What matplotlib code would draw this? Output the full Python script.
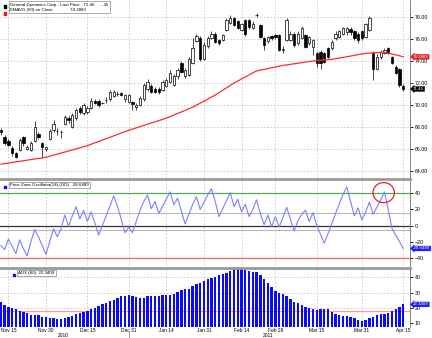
import numpy as np
import matplotlib.pyplot as plt
from matplotlib.patches import Ellipse
from matplotlib.transforms import blended_transform_factory

plt.rcParams['font.family'] = ['Liberation Sans', 'DejaVu Sans']

# trading-day index, 0 = Nov 15 2010
days = np.arange(-2, 106)

opens = [67.7, 67.1, 66.7, 66.1, 65.6, 65.9, 67.1, 66.0, 65.9, 66.7, 67.4, 66.5, 66.0, 66.9, 67.7, 67.6,
         67.5, 68.3, 68.8, 68.0, 68.8, 69.7, 69.3, 69.4, 69.7, 70.4, 70.35, 70.2, 70.45, 70.5, 70.8, 71.0,
         71.1, 70.5, 70.3, 70.3, 69.8, 70.0, 70.5, 71.5, 71.7, 71.5, 71.5, 71.4, 71.7, 72.1, 71.8, 72.6,
         73.8, 72.6, 72.7, 73.8, 75.8, 76.1, 74.2, 75.4, 76.1, 76.5, 75.9, 75.9, 76.8, 77.5, 77.9, 77.6,
         76.8, 77.7, 77.7, 77.0, 78.2, 77.3, 76.1, 75.8, 76.3, 76.35, 76.35, 75.0, 75.9, 75.9, 76.5, 75.6,
         76.1, 76.4, 75.6, 75.3, 74.7, 74.85, 74.7, 75.15, 75.15, 76.05, 76.2, 76.5, 76.6, 76.95, 76.7,
         76.5, 76.7, 76.2, 76.8, 74.7, 73.3, 74.35, 74.7, 75.15, 74.4, 73.5, 73.3, 71.7]
highs = [67.9, 67.3, 66.9, 66.3, 65.7, 67.0, 67.2, 66.4, 66.7, 68.5, 67.5, 66.6, 66.3, 67.8, 68.6, 67.9,
         67.7, 69.1, 69.0, 69.3, 69.7, 69.9, 70.2, 69.9, 70.6, 70.5, 70.5, 70.3, 70.7, 71.4, 71.4, 71.3,
         71.2, 71.0, 71.0, 70.4, 70.2, 70.8, 72.0, 72.4, 71.9, 71.6, 71.6, 72.3, 72.5, 73.2, 72.8, 73.4,
         74.0, 73.4, 74.4, 76.1, 76.5, 76.3, 75.7, 76.3, 76.7, 76.6, 76.0, 76.5, 77.9, 78.2, 78.0, 77.7,
         77.5, 77.8, 77.8, 77.6, 78.4, 77.4, 76.2, 76.3, 76.4, 76.5, 76.5, 75.4, 77.9, 76.7, 76.6, 76.7,
         77.2, 76.5, 76.3, 76.0, 74.8, 75.0, 74.8, 75.3, 75.9, 76.7, 76.8, 77.1, 77.1, 77.1, 76.8,
         76.6, 76.8, 77.5, 78.1, 74.9, 74.6, 75.0, 75.2, 75.3, 74.5, 73.6, 73.4, 71.9]
lows = [67.3, 66.4, 66.3, 65.4, 65.2, 65.8, 66.3, 65.9, 65.8, 66.6, 66.9, 65.2, 65.8, 66.8, 67.5, 67.3,
        67.0, 68.2, 68.4, 67.9, 68.6, 69.2, 69.1, 69.2, 69.6, 70.1, 69.8, 70.1, 70.2, 70.4, 70.7, 70.8,
        70.8, 70.3, 70.2, 69.55, 69.5, 69.9, 70.4, 71.3, 71.1, 71.1, 71.0, 71.3, 71.6, 72.0, 71.7, 72.4,
        72.9, 72.5, 72.6, 73.7, 75.7, 74.0, 74.1, 75.2, 76.0, 75.6, 75.5, 75.8, 76.7, 77.4, 77.2, 76.9,
        76.7, 76.3, 76.9, 76.9, 78.0, 76.1, 75.0, 75.6, 75.9, 76.0, 74.9, 74.7, 75.8, 75.8, 75.3, 75.5,
        76.0, 75.2, 75.5, 74.55, 73.5, 73.3, 73.8, 74.3, 75.0, 75.9, 76.1, 76.4, 76.4, 76.4, 75.9,
        75.6, 75.9, 76.1, 76.7, 72.3, 73.2, 74.2, 74.6, 74.6, 73.7, 72.8, 71.6, 71.3]
closes = [67.5, 66.5, 66.4, 65.6, 65.3, 66.8, 66.5, 66.2, 66.5, 68.0, 67.1, 66.2, 66.2, 67.6, 68.3, 67.6,
          67.5, 68.9, 68.6, 69.1, 69.5, 69.4, 70.0, 69.7, 70.4, 70.2, 70.0, 70.2, 70.45, 71.2, 71.2, 71.0,
          70.9, 70.9, 70.9, 70.1, 70.0, 70.6, 71.8, 72.1, 71.2, 71.2, 71.2, 72.1, 72.3, 72.9, 72.6, 73.2,
          73.0, 73.2, 74.2, 75.2, 76.3, 74.2, 75.5, 76.1, 76.5, 75.75, 75.6, 76.35, 77.7, 77.9, 77.3, 77.0,
          77.4, 76.5, 77.1, 77.4, 78.15, 76.2, 75.45, 76.2, 76.1, 76.15, 75.0, 75.1, 77.7, 76.5, 75.45, 76.5,
          77.0, 75.3, 76.2, 75.9, 73.8, 73.8, 73.95, 74.4, 75.75, 76.5, 76.7, 77.0, 77.0, 76.6, 76.05,
          75.9, 76.05, 77.4, 77.9, 73.3, 74.4, 74.85, 75.0, 74.7, 73.8, 72.9, 71.81, 71.46]

ema60 = [64.62, 64.67, 64.72, 64.77, 64.83, 64.88, 64.93, 64.98, 65.04, 65.09, 65.14, 65.19, 65.25,
         65.34, 65.44, 65.53, 65.63, 65.72, 65.82, 65.91, 66.01, 66.11, 66.2, 66.3,
         66.43, 66.56, 66.68, 66.81, 66.94, 67.06, 67.19, 67.32, 67.45, 67.57, 67.7,
         67.81, 67.92, 68.03, 68.14, 68.25, 68.36, 68.47, 68.58, 68.69, 68.8,
         68.94, 69.09, 69.23, 69.37, 69.51, 69.66, 69.8,
         69.98, 70.17, 70.35, 70.53, 70.72, 70.9,
         71.12, 71.34, 71.56, 71.78, 72.0,
         72.18, 72.37, 72.55, 72.73, 72.92, 73.1,
         73.17, 73.24, 73.31, 73.39, 73.46, 73.53, 73.6,
         73.65, 73.7, 73.75, 73.8, 73.85, 73.9, 73.95, 74.0, 74.05,
         74.08, 74.1, 74.13, 74.15,
         74.21, 74.27, 74.33, 74.39, 74.45, 74.52, 74.58, 74.64, 74.7,
         74.72, 74.74, 74.76, 74.78, 74.8,
         74.72, 74.64, 74.56, 74.48, 74.3883]

pzo = [-25, -30, -17, -26, -35, -18, -29, -38, -20, -5, -14, -25, -36, -20, -4, -14, -4, 13, -1, 12,
       23.5, 8, 19, 5, 17, 3, -12, 0, 12, 24, 37, 24, 8, -9, -2, -9, 5, 19, 30, 38,
       21, 30, 15, 24, 33, 42, 26, 34, 18, 2, 14, 26, 36, 20, 29, 38, 46, 30, 11, 21,
       31, 41, 23.5, 32.7, 17, 26.5, 11, 20, 32, 15, 1, 13, -1.5, 11, -2, 10, 22.7, 8, -7, 6,
       14, 19, 5, 16, 0, -11, -22, -10, 2, 15, 27, 39, 48, 30, 12, 22, 7, 17, 29, 14,
       23, 32, 42, 20, -3.5, -12, -20, -28.6489]

adx = [24.1, 21.9, 20.9, 19.8, 19.3, 18.2, 17.5, 16.5, 15.4, 15.4, 15.4, 14.3, 13.9, 13.3, 13.3, 13.1,
       13.1, 13.7, 14.3, 14.7, 15.8, 16.5, 17.1, 18.2, 19.1, 20.2, 21.2, 22.3, 23.4, 24.5, 25.5, 26.8,
       27.9, 28.1, 28.3, 27.9, 27.2, 26.6, 26.8, 27.7, 28.1, 28.1, 28.1, 28.3, 28.3, 28.6, 29.4, 30.5,
       31.6, 32.1, 32.7, 34.2, 35.5, 36.4, 37.7, 38.6, 39.9, 40.4,
       41.5, 42.2, 43.1, 44.3, 45.2, 45.4, 45.4, 44.8, 44.1, 43.7, 43.7, 41.5, 38.7, 36.1, 33.9, 31.3,
       29.9, 29.1, 28.0, 25.9, 24.1, 23.0, 21.9, 20.9, 19.8, 19.3, 18.7, 19.3, 19.3, 19.1, 17.6, 16.0,
       15.4, 15.0, 14.7, 13.9, 13.3, 12.1, 11.4, 12.1, 13.3, 14.3, 15.4, 16.0, 16.0, 16.9, 18.2, 19.5,
       20.6, 22.3409]

tick_pos = [0, 10, 21, 32, 42, 52, 62, 71, 82, 94, 105]
tick_labels = ['Nov 15', 'Nov 30', 'Dec 15', 'Dec 31', 'Jan 14', 'Jan 31',
               'Feb 14', 'Feb 28', 'Mar 15', 'Mar 31', 'Apr 15']
years = ['2010', '2011']
year_pos = [14.5, 69]
last_price, last_chg = 71.46, -0.35

W, H = 432, 338
fig = plt.figure(figsize=(W / 100, H / 100), dpi=100)
x0, x1 = 0, 410 / W
ax1 = fig.add_axes([x0, 1 - 178 / H, x1, 178 / H])
ax2 = fig.add_axes([x0, 1 - 268 / H, x1, 89 / H], sharex=ax1)
ax3 = fig.add_axes([x0, 1 - 327 / H, x1, 59 / H], sharex=ax1)

grid_kw = dict(color='#c8c8c8', lw=0.6, ls=(0, (2, 2)))
for ax in (ax1, ax2, ax3):
    for s in ('left', 'bottom', 'top'):
        ax.spines[s].set_visible(False)
    ax.spines['right'].set_color('#555555')
    ax.spines['right'].set_linewidth(0.5)
    ax.yaxis.tick_right()
    ax.tick_params(axis='y', direction='out', length=2, width=0.6, labelsize=3.8, pad=1.5)
    ax.tick_params(axis='x', length=0)
    for t in tick_pos:
        ax.axvline(t, zorder=0, **grid_kw)
ax1.tick_params(axis='x', labelbottom=False)
ax2.tick_params(axis='x', labelbottom=False)
for ax in (ax2, ax3):
    ax.spines['top'].set_visible(True)
    ax.spines['top'].set_color('#9a9a9a')
    ax.spines['top'].set_linewidth(2)

ax1.set_xlim(-2.23, 106.8)

# price panel: candles + EMA
ax1.set_ylim(63.36, 79.55)
ax1.set_yticks(np.arange(64, 79, 2))
ax1.yaxis.set_major_formatter('{x:.2f}')
for v in np.arange(64, 79, 2):
    ax1.axhline(v, zorder=0, **grid_kw)
o, h, l, c = map(np.array, (opens, highs, lows, closes))
ax1.vlines(days, l, h, color='black', lw=0.5, zorder=2)
up = c >= o
ax1.bar(days[up], c[up] - o[up], bottom=o[up], width=0.62, color='white',
        edgecolor='black', lw=0.5, zorder=3)
ax1.bar(days[~up], o[~up] - c[~up], bottom=c[~up], width=0.62, color='black',
        edgecolor='black', lw=0.5, zorder=3)
ax1.plot(days, ema60, color='#ff2a2a', lw=0.9, zorder=4)

# price zone oscillator panel
ax2.set_ylim(-53, 58)
ax2.set_yticks([-40, -20, 0, 20, 40])
ax2.axhline(40, color='#4caf50', lw=0.9)
ax2.axhline(15, color='#b8b8b8', lw=0.8)
ax2.axhline(0, color='#333333', lw=0.9)
ax2.axhline(-5, color='#b8b8b8', lw=0.8)
ax2.axhline(-40, color='#ff5a5a', lw=0.9)
ax2.plot(days, pzo, color='#7f7fff', lw=0.8, zorder=4)
ax2.add_patch(Ellipse((99.8, 41), 5.7, 25, fill=False, edgecolor='#e82020', lw=0.9, zorder=5))

# ADX panel
ax3.set_ylim(7.6, 46.1)
ax3.set_yticks([10, 20, 30, 40])
for v in (20, 30, 40):
    ax3.axhline(v, zorder=0, **grid_kw)
ax3.axhline(18, color='#ff9a9a', lw=0.9, zorder=1)
ax3.bar(days, np.array(adx) - 7.6, bottom=7.6, width=0.62, color='#0a0aff', zorder=2)
ax3.set_xticks(tick_pos)
ax3.set_xticklabels(tick_labels, fontsize=3.5)
ax3.tick_params(axis='x', pad=0.6)

# year labels under the date axis
tr = blended_transform_factory(ax3.transData, fig.transFigure)
for yr, xp in zip(years, year_pos):
    ax3.text(xp, 0.0, yr, transform=tr, fontsize=3.5, ha='center', va='bottom')
ax3.plot([32, 32], [0.0, 0.022], transform=tr, color='#888888', lw=0.6, clip_on=False)


def value_tag(ax, val, text, color):
    ax.annotate(text, xy=(1, val), xycoords=ax.get_yaxis_transform(),
                xytext=(2.2, 0), textcoords='offset points', fontsize=3.2, color='white',
                va='center', ha='left', zorder=10, annotation_clip=False,
                bbox=dict(boxstyle='larrow,pad=0.1', fc=color, ec=color, lw=0.3))


value_tag(ax1, ema60[-1], '74.3883', '#e52020')
value_tag(ax1, last_price, f'{last_price:.2f}', 'black')
value_tag(ax2, pzo[-1], '-28.6489', '#1a1aff')
value_tag(ax3, adx[-1], '22.3409', '#1a1aff')

# legends
box = dict(boxstyle='square,pad=0.3', fc='white', ec='#888888', lw=0.5)
ax1.text(0.025, 0.985, 'General Dynamics Corp - Last Price   71.46     -.35\nEMAVG (60) on Close              74.3883',
         transform=ax1.transAxes, fontsize=3.2, va='top', ha='left', linespacing=1.3, bbox=box, zorder=10)
ax1.scatter([0.012, 0.012], [0.962, 0.925], transform=ax1.transAxes, marker='s', s=4,
            c=['black', '#ff1010'], zorder=11, clip_on=False)
ax2.text(0.025, 0.955, 'Price Zone Oscillator(14) (GD)  -28.6489', transform=ax2.transAxes,
         fontsize=3.2, va='top', ha='left', bbox=box, zorder=10)
ax2.scatter([0.012], [0.905], transform=ax2.transAxes, marker='s', s=4, c='#1010ff', zorder=11)
ax3.text(0.045, 0.95, 'ADX (60)  22.3409', transform=ax3.transAxes,
         fontsize=3.2, va='top', ha='left', bbox=box, zorder=10)
ax3.scatter([0.034], [0.875], transform=ax3.transAxes, marker='s', s=4, c='#1010ff', zorder=11)

fig.savefig('out.png', dpi=100)
